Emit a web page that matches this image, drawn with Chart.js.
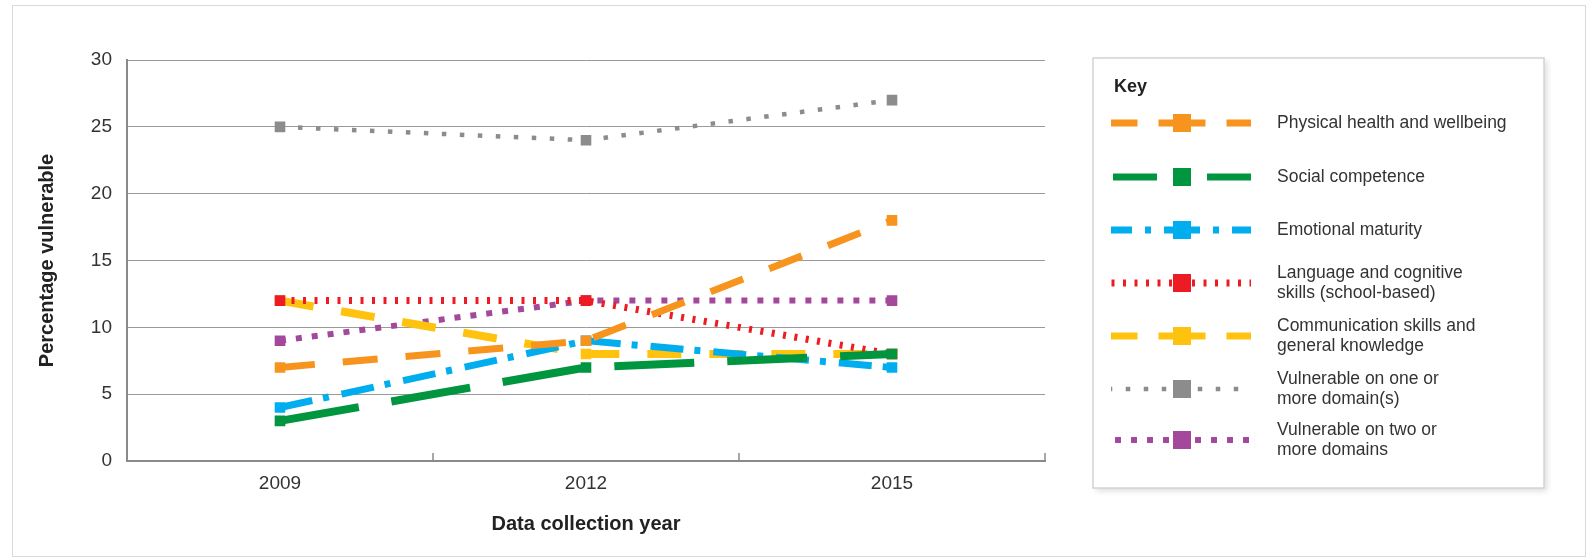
<!DOCTYPE html>
<html>
<head>
<meta charset="utf-8">
<script src="https://cdn.jsdelivr.net/npm/chart.js@4.4.0/dist/chart.umd.min.js"></script>
<style>
  body { margin: 0; background: #fff; }
  #wrap { position: relative; width: 1587px; height: 559px; }
  #frame { position: absolute; left: 12px; top: 5px; width: 1572px; height: 550px; border: 1px solid #dadada; pointer-events: none; }
</style>
</head>
<body>
<div id="wrap">
  <canvas id="myChart" width="1587" height="559"></canvas>
  <div id="frame"></div>
</div>
<script>
  // years on the x axis
  const years = ['2009', '2012', '2015'];

  // percentage vulnerable per domain
  const physical = [7, 9, 18];
  const social = [3, 7, 8];
  const emotional = [4, 9, 7];
  const language = [12, 12, 8];
  const communication = [12, 8, 8];
  const oneOrMore = [25, 24, 27];
  const twoOrMore = [9, 12, 12];

  const yTicks = [0, 5, 10, 15, 20, 25, 30];

  const seriesNames = [
    ['Physical health and wellbeing'],
    ['Social competence'],
    ['Emotional maturity'],
    ['Language and cognitive', 'skills (school-based)'],
    ['Communication skills and', 'general knowledge'],
    ['Vulnerable on one or', 'more domain(s)'],
    ['Vulnerable on two or', 'more domains']
  ];

  const font = "'Liberation Sans', Arial, sans-serif";

  // keyDash / keyMid: dash used in the key and the pattern position under the marker
  function makeSet(i, data, color, width, dash, keyDash, keyMid) {
    return {
      label: seriesNames[i].join(' '),
      data: data,
      borderColor: color,
      backgroundColor: color,
      borderWidth: width,
      borderDash: dash,
      keyDash: keyDash || dash,
      keyMid: keyMid === undefined ? (keyDash || dash)[0] / 2 : keyMid,
      pointStyle: 'rect',
      pointRadius: 7.5,
      pointBorderWidth: 0,
      fill: false,
      tension: 0
    };
  }

  const datasets = [
    makeSet(0, physical, '#f7941d', 7, [35, 28], [47, 21]),
    makeSet(1, social, '#00963f', 8, [80, 33], [44, 50], 69),
    makeSet(2, emotional, '#00aeef', 7, [33, 11, 6, 13], [36, 13, 6, 13]),
    makeSet(3, language, '#ed1c24', 7, [3, 8.5]),
    makeSet(4, communication, '#ffc20e', 8, [34, 28], [47, 21]),
    makeSet(5, oneOrMore, '#8c8c8c', 4.5, [4.5, 13.5]),
    makeSet(6, twoOrMore, '#a3489b', 6, [6, 10])
  ];

  // small inward tick marks between the years
  const xTicks = {
    id: 'xTicks',
    afterDraw(chart) {
      const s = chart.scales.x, ctx = chart.ctx;
      const half = (s.getPixelForValue(1) - s.getPixelForValue(0)) / 2;
      ctx.save();
      ctx.strokeStyle = '#8a8a8a';
      ctx.lineWidth = 1.5;
      for (let i = 0; i < years.length; i++) {
        const x = s.getPixelForValue(i) + half;
        ctx.beginPath();
        ctx.moveTo(x, s.top);
        ctx.lineTo(x, s.top - 8);
        ctx.stroke();
      }
      ctx.restore();
    }
  };

  // draws the "Key" box on the right
  const keyBox = {
    id: 'keyBox',
    afterDraw(chart) {
      const ctx = chart.ctx;
      const bx = 1093, by = 58, bw = 451, bh = 430;
      ctx.save();
      ctx.shadowColor = 'rgba(0,0,0,0.14)';
      ctx.shadowBlur = 6;
      ctx.shadowOffsetX = 3;
      ctx.shadowOffsetY = 3;
      ctx.fillStyle = '#fff';
      ctx.fillRect(bx, by, bw, bh);
      ctx.shadowColor = 'transparent';
      ctx.strokeStyle = '#d4d4d4';
      ctx.lineWidth = 1.5;
      ctx.strokeRect(bx, by, bw, bh);

      ctx.fillStyle = '#222';
      ctx.font = 'bold 18px ' + font;
      ctx.textBaseline = 'middle';
      ctx.fillText('Key', 1114, 87);

      const rowY = [123, 177, 230, 283, 336, 389, 440];
      const x0 = 1111, x1 = 1251, cx = 1182;
      chart.data.datasets.forEach((ds, i) => {
        const y = rowY[i];
        const dash = ds.keyDash;
        ctx.strokeStyle = ds.borderColor;
        ctx.lineWidth = Math.min(ds.borderWidth, 7);
        ctx.setLineDash(dash);
        const period = dash.reduce((a, b) => a + b, 0) * (dash.length % 2 ? 2 : 1);
        ctx.lineDashOffset = ((ds.keyMid - (cx - x0)) % period + period) % period;
        ctx.beginPath();
        ctx.moveTo(x0, y);
        ctx.lineTo(x1, y);
        ctx.stroke();
        ctx.setLineDash([]);
        ctx.fillStyle = ds.backgroundColor;
        ctx.fillRect(cx - 9, y - 9, 18, 18);

        ctx.fillStyle = '#333';
        ctx.font = '17.5px ' + font;
        const lines = seriesNames[i];
        lines.forEach((t, j) => {
          ctx.fillText(t, 1277, y + (j - (lines.length - 1) / 2) * 20);
        });
      });
      ctx.restore();
    }
  };

  const ctx = document.getElementById('myChart').getContext('2d');
  const myChart = new Chart(ctx, {
    type: 'line',
    data: { labels: years, datasets: datasets },
    plugins: [xTicks, keyBox],
    options: {
      responsive: false,
      animation: false,
      devicePixelRatio: 1,
      layout: { padding: { top: 60, right: 542, bottom: 0, left: 0 } },
      plugins: { legend: { display: false }, tooltip: { enabled: false } },
      scales: {
        x: {
          offset: true,
          afterFit: (s) => { s.height = 98; },
          grid: { display: false, drawTicks: false },
          border: { color: '#8a8a8a', width: 2 },
          ticks: { color: '#333', padding: 11, font: { family: font, size: 19 } },
          title: { display: true, text: 'Data collection year', color: '#222', font: { family: font, size: 20, weight: 'bold' }, padding: { top: 0, bottom: 23 } }
        },
        y: {
          min: 0,
          max: 30,
          afterFit: (s) => { s.width = 127; },
          afterBuildTicks: (s) => { s.ticks = yTicks.map(v => ({ value: v })); },
          grid: { color: '#9a9a9a', lineWidth: 1, drawTicks: false },
          border: { color: '#8a8a8a', width: 2 },
          ticks: { color: '#333', padding: 15, font: { family: font, size: 19 } },
          title: { display: true, text: 'Percentage vulnerable', color: '#222', font: { family: font, size: 20, weight: 'bold' }, padding: { top: 35, bottom: 0 } }
        }
      }
    }
  });
</script>
</body>
</html>
